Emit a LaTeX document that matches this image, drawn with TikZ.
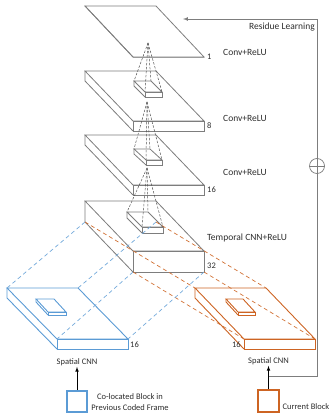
\documentclass[tikz,border=0pt]{standalone}
\usepackage{fontspec}
\setmainfont{Carlito}
\usepackage{tikz}
\usepackage{xcolor}
\definecolor{layergray}{RGB}{125,125,125}
\definecolor{fangray}{RGB}{85,85,85}
\definecolor{prevblue}{RGB}{91,155,213}
\definecolor{curorange}{RGB}{205,100,35}
\definecolor{textgray}{RGB}{45,45,45}

% slab: name, style, x, y (back-left top), width, depth dx, depth dy, thickness
\newcommand{\layerslab}[8]{%
\coordinate (#1-bl) at (#3,#4);
\coordinate (#1-br) at ({#3+#5},#4);
\coordinate (#1-fl) at ({#3+#6},{#4+#7});
\coordinate (#1-fr) at ({#3+#5+#6},{#4+#7});
\coordinate (#1-bl-d) at (#3,{#4+#8});
\coordinate (#1-br-d) at ({#3+#5},{#4+#8});
\coordinate (#1-fl-d) at ({#3+#6},{#4+#7+#8});
\coordinate (#1-fr-d) at ({#3+#5+#6},{#4+#7+#8});
\draw[#2] (#1-bl) -- (#1-br) -- (#1-fr) -- (#1-fl) -- cycle;
\draw[#2] (#1-fl) rectangle (#1-fr-d);
\draw[#2] (#1-bl) -- (#1-bl-d) -- (#1-fl-d);
}

\begin{document}
\begin{tikzpicture}[x=1pt, y=-1pt,
  slabline/.style={draw=layergray, line width=0.8pt},
  prevline/.style={draw=prevblue, line width=0.9pt},
  curline/.style={draw=curorange, line width=0.9pt},
  fan/.style={draw=fangray, line width=0.5pt, dash pattern=on 2.5pt off 1.5pt},
  prevdash/.style={draw=prevblue!85, line width=0.7pt, dash pattern=on 4pt off 3pt},
  curdash/.style={draw=curorange!90, line width=0.7pt, dash pattern=on 4pt off 3pt},
  res/.style={draw=layergray, line width=0.7pt},
  big/.style={font=\fontsize{9.5}{11}\selectfont, text=textgray, inner sep=1pt},
  small/.style={font=\fontsize{8.5}{10.5}\selectfont, text=textgray, inner sep=1pt}]
\useasboundingbox (0,0) rectangle (331,414);

\layerslab{p1}{slabline}{85}{6}{71}{48}{51}{0}
\layerslab{p8}{slabline}{85}{71}{71}{48}{50}{10}
\layerslab{p16}{slabline}{85}{135}{71}{48}{50}{10}
\layerslab{p32}{slabline}{85}{201}{71}{48}{50}{21}
\layerslab{k8}{slabline}{134}{81}{17}{11}{11}{5}
\layerslab{k16}{slabline}{134}{149}{16}{12}{11}{5}
\layerslab{k32}{slabline}{127}{212}{21}{15}{15}{6}
\layerslab{prev}{prevline}{7}{288}{71}{50}{51}{10}
\layerslab{cur}{curline}{195}{288}{71}{49}{51}{10}
\layerslab{prevk}{prevline}{36}{299}{18}{12}{13}{3}
\layerslab{curk}{curline}{226}{299}{17}{12}{13}{3}

\coordinate (a1) at (148,43);
\coordinate (a2) at (147,102);
\coordinate (a3) at (147,168);
\foreach \c in {bl,br,fl,fr} {
  \draw[fan] (a1) -- (k8-\c);
  \draw[fan] (a2) -- (k16-\c);
  \draw[fan] (a3) -- (k32-\c);
  \draw[prevdash] (p32-\c-d) -- (prev-\c);
  \draw[curdash] (p32-\c-d) -- (cur-\c);
}

\node[small, anchor=west] (n1) at (206,57) {1};
\node[small, anchor=west] (n8) at (206,126) {8};
\node[small, anchor=west] (n16) at (206,190) {16};
\node[small, anchor=west] (n32) at (206,266) {32};
\node[small, anchor=west] (nprev) at (129,345) {16};
\node[small, anchor=east] (ncur) at (242,345) {16};

\node[big, anchor=west] (conv1) at (222,52) {Conv+ReLU};
\node[big, anchor=west] (conv2) at (222,118) {Conv+ReLU};
\node[big, anchor=west] (conv3) at (222,172) {Conv+ReLU};
\node[big, anchor=west] (temporal) at (206,238) {Temporal CNN+ReLU};
\node[big, anchor=east] (reslbl) at (316,27) {Residue Learning};

\node[small] (prevcnn) at (77,362) {Spatial CNN};
\node[small] (curcnn) at (268.5,361) {Spatial CNN};
\node[draw=prevblue, line width=2.4pt, minimum size=20.5pt, inner sep=0] (prevsq) at (77,401.5) {};
\node[draw=curorange, line width=2.4pt, minimum size=21.5pt, inner sep=0] (cursq) at (268.5,401) {};
\node[small, align=center] (prevtxt) at (130,402) {Co-located Block in\\Previous Coded Frame};
\node[small, anchor=east] (curtxt) at (330.5,407) {Current Block};

\draw[-latex, line width=0.7pt] (prevsq.north) -- (prevcnn.south);
\draw[-latex, line width=0.7pt] (cursq.north) -- (curcnn.south);

\node[draw=layergray, line width=0.7pt, circle, minimum size=15pt, inner sep=0] (sum) at (317,166) {};
\coordinate (junc) at (268.5,376);
\coordinate (restip) at (183,19);
\draw[res] (junc) -| (sum.south);
\draw[res, -latex] (sum.north) |- (restip);
\draw[res] (sum.west) -- (sum.east) (sum.north) -- (sum.south);
\end{tikzpicture}
\end{document}
